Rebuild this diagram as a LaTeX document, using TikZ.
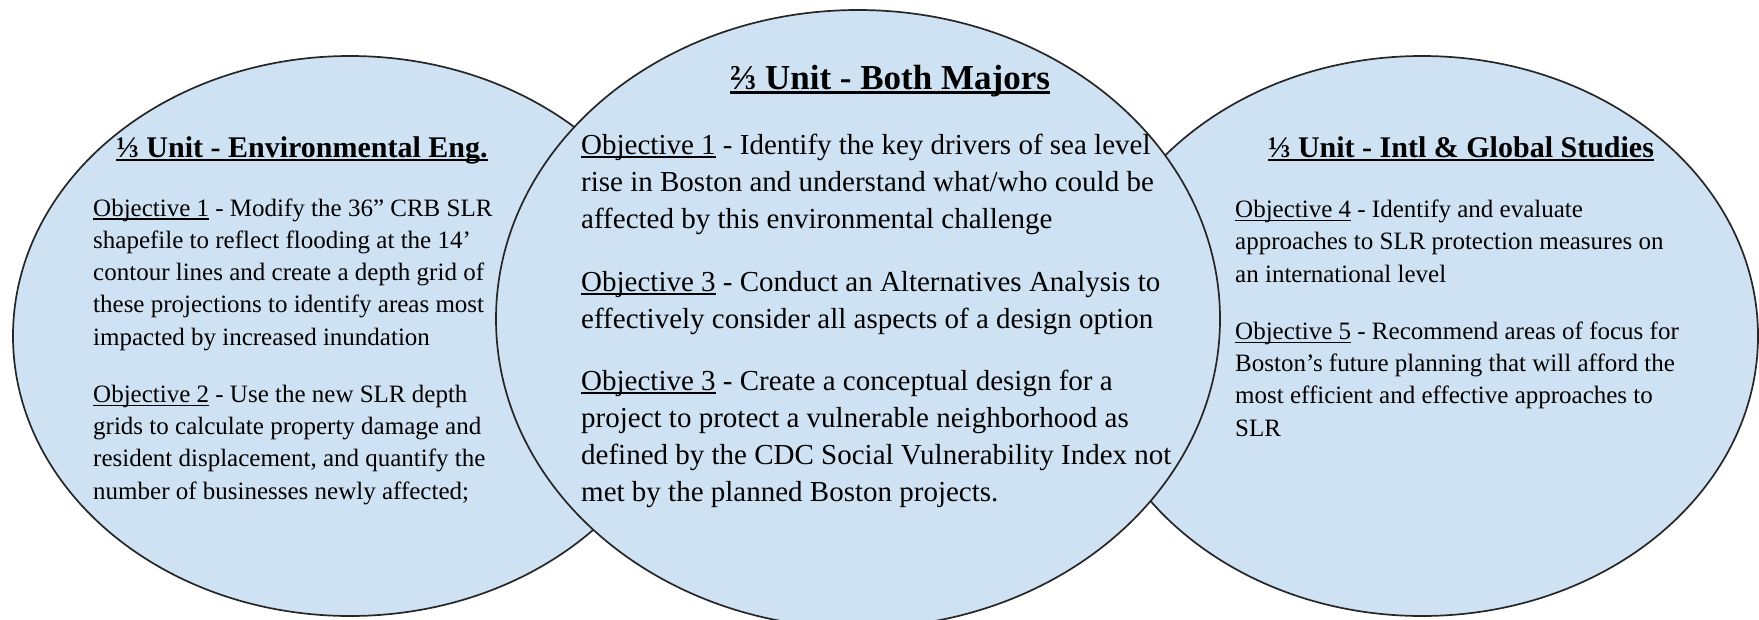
\documentclass[tikz,border=0pt]{standalone}
\usepackage{fontspec}
\setmainfont{Liberation Serif}
\definecolor{venn}{HTML}{CFE2F3}
\newcommand\myul[1]{\setbox0\hbox{#1}\rlap{\rule[-0.14em]{\wd0}{0.055em}}\box0\relax}
\newcommand\myulb[1]{\setbox0\hbox{#1}\rlap{\rule[-0.13em]{\wd0}{0.07em}}\box0\relax}
\begin{document}
\begin{tikzpicture}[x=1pt,y=-1pt,
  bubble/.style={fill=venn,draw=black!85,line width=1.7pt},
  head/.style={anchor=base,inner sep=0pt,font=\bfseries\fontsize{30}{36}\selectfont},
  midhead/.style={anchor=base,inner sep=0pt,font=\bfseries\fontsize{35}{42}\selectfont},
  side/.style={anchor=base west,inner sep=0pt,align=left,font=\fontsize{25}{32.2}\selectfont},
  mid/.style={anchor=base west,inner sep=0pt,align=left,font=\fontsize{29}{37}\selectfont}]
\useasboundingbox (0,0) rectangle (1759,619);
\clip (0,0) rectangle (1759,619);
\draw[bubble] (350,336) ellipse [x radius=337pt, y radius=280pt];
\draw[bubble] (1422,336) ellipse [x radius=336pt, y radius=280pt];
\draw[bubble] (858,319) ellipse [x radius=362pt, y radius=309pt];

% multi-line nodes: base anchor is the baseline of the last line
\node[head] (hl) at (302,157) {\myulb{⅓ Unit - Environmental Eng.}};
\node[side] (l1) at (93,345) {\myul{Objective 1} - Modify the 36'' CRB SLR\\shapefile to reflect flooding at the 14’\\contour lines and create a depth grid of\\these projections to identify areas most\\impacted by increased inundation};
\node[side] (l2) at (93,499) {\myul{Objective 2} - Use the new SLR depth\\grids to calculate property damage and\\resident displacement, and quantify the\\number of businesses newly affected;};

\node[midhead] (hm) at (890,89) {\myulb{⅔ Unit - Both Majors}};
\node[mid] (m1) at (581,228) {\myul{Objective 1} - Identify the key drivers of sea level\\rise in Boston and understand what/who could be\\affected by this environmental challenge};
\node[mid] (m2) at (581,328) {\myul{Objective 3} - Conduct an Alternatives Analysis to\\effectively consider all aspects of a design option};
\node[mid] (m3) at (581,501) {\myul{Objective 3} - Create a conceptual design for a\\project to protect a vulnerable neighborhood as\\defined by the CDC Social Vulnerability Index not\\met by the planned Boston projects.};

\node[head] (hr) at (1461,157) {\myulb{⅓ Unit - Intl \& Global Studies}};
\node[side] (r1) at (1235,282) {\myul{Objective 4} - Identify and evaluate\\approaches to SLR protection measures on\\an international level};
\node[side] (r2) at (1235,436) {\myul{Objective 5} - Recommend areas of focus for\\Boston’s future planning that will afford the\\most efficient and effective approaches to\\SLR};
\end{tikzpicture}
\end{document}
